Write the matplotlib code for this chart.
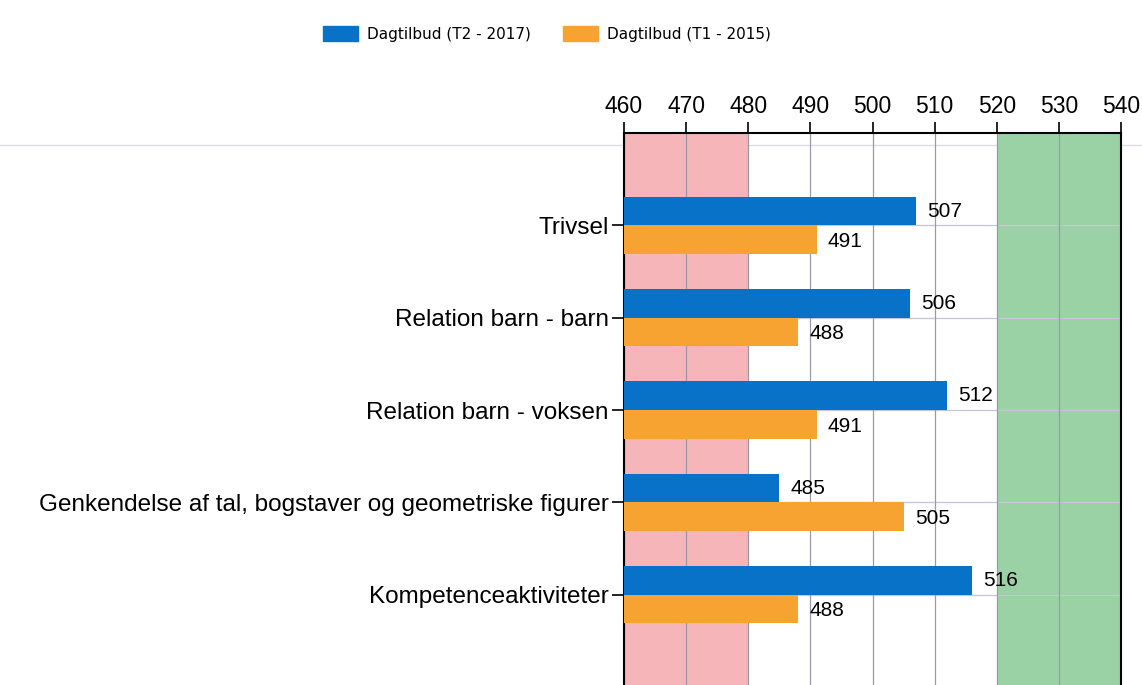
import matplotlib
matplotlib.use("Agg")
import matplotlib.pyplot as plt
from matplotlib.patches import Patch
import numpy as np

categories = ["Trivsel", "Relation barn - barn", "Relation barn - voksen",
              "Genkendelse af tal, bogstaver og geometriske figurer",
              "Kompetenceaktiviteter"]
t2_2017 = [507, 506, 512, 485, 516]
t1_2015 = [491, 488, 491, 505, 488]
series_names = ["Dagtilbud (T2 - 2017)", "Dagtilbud (T1 - 2015)"]
xticks = [460, 470, 480, 490, 500, 510, 520, 530, 540]

BLUE = "#0872C8"
ORANGE = "#F7A331"
PINK = "#F5B5B9"
GREEN = "#9BD2A5"

plt.rcParams['font.family'] = ['Liberation Sans', 'DejaVu Sans']

fig = plt.figure(figsize=(11.42, 6.85), dpi=100)
ax = fig.add_axes([624/1142, -0.003, (1121-624)/1142, 1 - 133/685 + 0.003])

# background bands
ax.axvspan(460, 480, color=PINK, zorder=0, lw=0)
ax.axvspan(520, 540, color=GREEN, zorder=0, lw=0)

y = np.arange(len(categories))
h = 0.31
ax.barh(y - h/2, [v - 460 for v in t2_2017], left=460, height=h, color=BLUE, zorder=3)
ax.barh(y + h/2, [v - 460 for v in t1_2015], left=460, height=h, color=ORANGE, zorder=3)

for yi, v in zip(y, t2_2017):
    ax.text(v + 1.8, yi - h/2, str(v), va='center', ha='left', fontsize=15, zorder=4)
for yi, v in zip(y, t1_2015):
    ax.text(v + 1.8, yi + h/2 + 0.02, str(v), va='center', ha='left', fontsize=15, zorder=4)

ax.set_xlim(460, 540)
ax.set_ylim(5, -1)
ax.set_yticks(y)
ax.set_yticklabels(categories, fontsize=17.5)
ax.set_xticks(xticks)
ax.xaxis.tick_top()
ax.tick_params(axis='x', labelsize=16.5, length=8, width=1.2, color='black', pad=3)
ax.tick_params(axis='y', length=9, width=1.2, pad=2)

ax.grid(True, axis='x', color='#9a9aa8', lw=0.9, zorder=1)
for yi in y:
    ax.axhline(yi, color='#c5c5d5', lw=0.9, zorder=1)

ax.spines['bottom'].set_visible(False)
ax.spines['top'].set_linewidth(1.5)
ax.spines['left'].set_linewidth(1.5)
ax.spines['right'].set_linewidth(1.5)

# light separator line across figure
fig.add_artist(plt.Line2D([0, 1], [1 - 145/685, 1 - 145/685], color='#dcdce6', lw=1.0,
                          transform=fig.transFigure, zorder=0))
ax.patch.set_alpha(0)

handles = [Patch(color=BLUE), Patch(color=ORANGE)]
fig.legend(handles, series_names, loc='center', bbox_to_anchor=(0.479, 1 - 34/685),
           ncol=2, frameon=False, handlelength=2.3, handleheight=1.1,
           handletextpad=0.6, columnspacing=2.1,
           prop={'family': ['DejaVu Sans'], 'size': 11})

fig.savefig("out.png", dpi=100)
